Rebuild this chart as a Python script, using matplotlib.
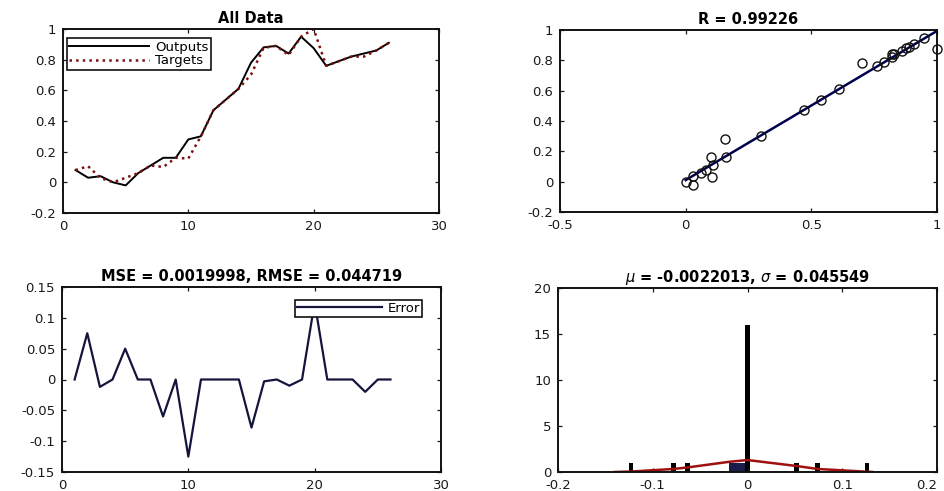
import numpy as np
import matplotlib
matplotlib.use("Agg")
import matplotlib.pyplot as plt
from matplotlib.ticker import FuncFormatter

plt.rcParams['font.family'] = ['DejaVu Sans']
plt.rcParams['axes.unicode_minus'] = False
plt.rcParams['mathtext.fontset'] = 'dejavusans'

# ---- data ----
samples = list(range(1, 27))
outputs = [0.08, 0.03, 0.04, 0.00, -0.02, 0.06, 0.11, 0.16, 0.16, 0.28, 0.30, 0.47, 0.54,
           0.61, 0.78, 0.88, 0.89, 0.84, 0.95, 0.875, 0.76, 0.79, 0.82, 0.84, 0.86, 0.91]
targets = [0.08, 0.105, 0.028, 0.00, 0.03, 0.06, 0.11, 0.10, 0.16, 0.155, 0.30, 0.47, 0.54,
           0.61, 0.702, 0.877, 0.89, 0.83, 0.95, 1.00, 0.76, 0.79, 0.82, 0.82, 0.86, 0.91]

hist_centers = [-0.123, -0.078, -0.063, 0.0, 0.052, 0.074, 0.126]
hist_counts = [1, 1, 1, 16, 1, 1, 1]
block_left = -0.02
block_width = 0.02
block_height = 1

curve_x = [-0.14, -0.123, -0.078, -0.063, -0.02, 0.0, 0.052, 0.074, 0.126, 0.132]
curve_y = [0.0, 0.05, 0.33, 0.5, 1.1, 1.3, 0.65, 0.33, 0.03, 0.0]

title_all = "All Data"
title_r = "R = 0.99226"
title_mse = "MSE = 0.0019998, RMSE = 0.044719"
title_hist = r"$\mu$ = -0.0022013, $\sigma$ = 0.045549"

errors = [t - o for t, o in zip(targets, outputs)]

# ---- figure ----
fig = plt.figure(figsize=(9.45, 4.91), dpi=100)
W, H = 945, 491

def axes_px(l, r, t, b):
    return fig.add_axes([l / W, 1 - b / H, (r - l) / W, (b - t) / H])

fmt = FuncFormatter(lambda v, p: ('%g' % round(v, 6)))

def style(ax):
    for s in ax.spines.values():
        s.set_linewidth(1.4)
        s.set_color('#111111')
    ax.tick_params(direction='in', top=True, right=True, length=3, width=0.9,
                   labelsize=9.5, colors='#1a1a1a')
    ax.tick_params(axis='x', pad=5)
    ax.tick_params(axis='y', pad=5)
    ax.xaxis.set_major_formatter(fmt)
    ax.yaxis.set_major_formatter(fmt)

tfont = dict(fontsize=10.5, fontweight='bold', pad=4)

# top-left
ax1 = axes_px(63, 439, 29, 213)
ax1.plot(samples, outputs, color='black', lw=1.4, label='Outputs')
ax1.plot(samples, targets, color='#7a1010', lw=1.8, ls=':', label='Targets')
ax1.set_xlim(0, 30)
ax1.set_ylim(-0.2, 1)
ax1.set_xticks([0, 10, 20, 30])
ax1.set_yticks(np.arange(-0.2, 1.01, 0.2))
ax1.set_title(title_all, **tfont)
style(ax1)
leg = ax1.legend(loc='upper left', bbox_to_anchor=(0.01, 0.95), fontsize=9.5,
                 frameon=True, fancybox=False, framealpha=1,
                 edgecolor='#111111', borderpad=0.2, handlelength=6.0,
                 labelspacing=0.05, borderaxespad=0.0, handletextpad=0.5)
leg.get_frame().set_linewidth(1.2)

# top-right
ax2 = axes_px(560, 937, 30, 212)
slope, intercept = np.polyfit(targets, outputs, 1)
fx = np.array([min(targets), max(targets)])
ax2.plot(fx, slope * fx + intercept, color='#000050', lw=1.8)
ax2.plot(targets, outputs, 'o', mfc='none', mec='#111111', ms=6.5, mew=1.0, clip_on=False)
ax2.set_xlim(-0.5, 1)
ax2.set_ylim(-0.2, 1)
ax2.set_xticks([-0.5, 0, 0.5, 1])
ax2.set_yticks(np.arange(-0.2, 1.01, 0.2))
ax2.set_title(title_r, **tfont)
style(ax2)

# bottom-left
ax3 = axes_px(62, 441, 287, 472)
ax3.plot(samples, errors, color='#14143c', lw=1.6, label='Error')
ax3.set_xlim(0, 30)
ax3.set_ylim(-0.15, 0.15)
ax3.set_xticks([0, 10, 20, 30])
ax3.set_yticks([-0.15, -0.1, -0.05, 0, 0.05, 0.1, 0.15])
ax3.set_title(title_mse, **tfont)
style(ax3)
leg3 = ax3.legend(loc='upper right', bbox_to_anchor=(0.95, 0.93), fontsize=9.5,
                  frameon=True, fancybox=False, framealpha=1,
                  edgecolor='#111111', borderpad=0.15, handlelength=6.5,
                  borderaxespad=0.0, handletextpad=0.4)
leg3.get_frame().set_linewidth(1.2)

# bottom-right
ax4 = axes_px(558, 937, 288, 472)
ax4.bar([block_left], [block_height], width=block_width, align='edge', color='#1c1c4a')
ax4.bar(hist_centers, hist_counts, width=0.005, color='black')
ax4.plot(curve_x, curve_y, color='#a01010', lw=1.8)
ax4.set_xlim(-0.2, 0.2)
ax4.set_ylim(0, 20)
ax4.set_xticks([-0.2, -0.1, 0, 0.1, 0.2])
ax4.set_yticks([0, 5, 10, 15, 20])
ax4.set_title(title_hist, **tfont)
style(ax4)
fig.canvas.draw()
ax4.get_xticklabels()[-1].set_horizontalalignment('right')

fig.savefig('out.png', dpi=100)
